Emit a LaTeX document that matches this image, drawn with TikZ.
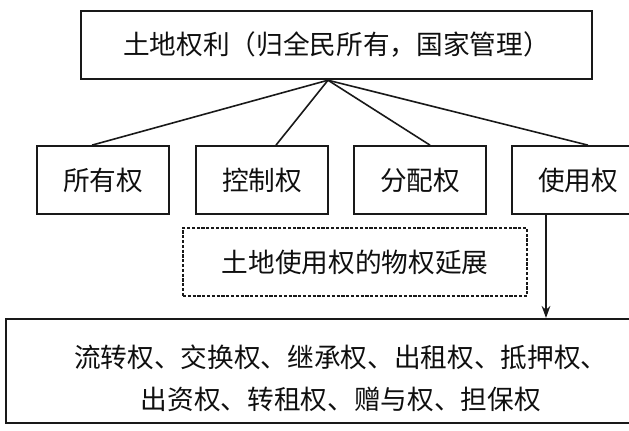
\documentclass[tikz,border=0pt]{standalone}
\usepackage{fontspec}
\newfontfamily\cjk{Noto Sans CJK SC}
\usetikzlibrary{arrows.meta, positioning, calc}
\definecolor{cline}{RGB}{25, 25, 25}
\definecolor{ctext}{RGB}{15, 15, 15}
\tikzset{
  rootbox/.style = {rectangle, draw=cline, line width=1.8pt, text=ctext,
                    font=\cjk\fontsize{20}{24}\selectfont,
                    minimum width=383pt, minimum height=51pt, inner sep=0pt},
  rightbox/.style = {rectangle, draw=cline, line width=1.3pt, text=ctext,
                    font=\cjk\fontsize{20}{24}\selectfont,
                    minimum width=99pt, minimum height=51pt, inner sep=0pt},
  extbox/.style  = {rectangle, draw=cline, line width=1.6pt,
                    dash pattern=on 2.4pt off 1.2pt, text=ctext,
                    font=\cjk\fontsize{20}{24}\selectfont,
                    minimum width=258pt, minimum height=51pt, inner sep=0pt},
  usebox/.style  = {rectangle, draw=cline, line width=1.6pt, text=ctext,
                    font=\cjk\fontsize{20}{32}\selectfont, align=center,
                    minimum width=502.5pt, minimum height=78pt, inner sep=0pt},
  link/.style    = {draw=cline, line width=1.2pt},
  >={Stealth[length=9pt, width=6.5pt]}
}

\begin{document}
\begin{tikzpicture}[x=0.75pt, y=-0.75pt]

% ── Frame (right-hand boxes run off the page) ─────────────────────────────
\useasboundingbox (0,0) rectangle (629,430);
\clip (0,0) rectangle (629,430);

% ── Land rights (top) ─────────────────────────────────────────────────────
\node[rootbox] (land) at (336.5, 45) {土地权利（归全民所有，国家管理）};

% ── Four rights ───────────────────────────────────────────────────────────
\foreach \n/\x/\t in {own/103/所有权, ctrl/262/控制权, dist/420/分配权, use/578/使用权}
  \node[rightbox] (\n) at (\x, 180) {\t};

% ── Extension of the use right (dashed) ───────────────────────────────────
\node[extbox] (ext) at (355, 262) {土地使用权的物权延展};

% ── Derived rights (bottom) ───────────────────────────────────────────────
\node[usebox] (uses) at (341, 371)
  {\rule{0pt}{28pt}流转权、交换权、继承权、出租权、抵押权、\\出资权、转租权、赠与权、担保权};

% ── Tree links ────────────────────────────────────────────────────────────
\coordinate (apex) at ($(land.south)+(-8.5,0)$);
\foreach \n/\dx in {own/-11, ctrl/14, dist/10, use/10}
  \draw[link] (apex) -- ($(\n.north)+(\dx,0)$);

% ── Use right -> derived rights ───────────────────────────────────────────
\draw[link, ->] ([xshift=-24pt]use.south) -- ([xshift=-24pt]use.south |- uses.north);

\end{tikzpicture}
\end{document}
